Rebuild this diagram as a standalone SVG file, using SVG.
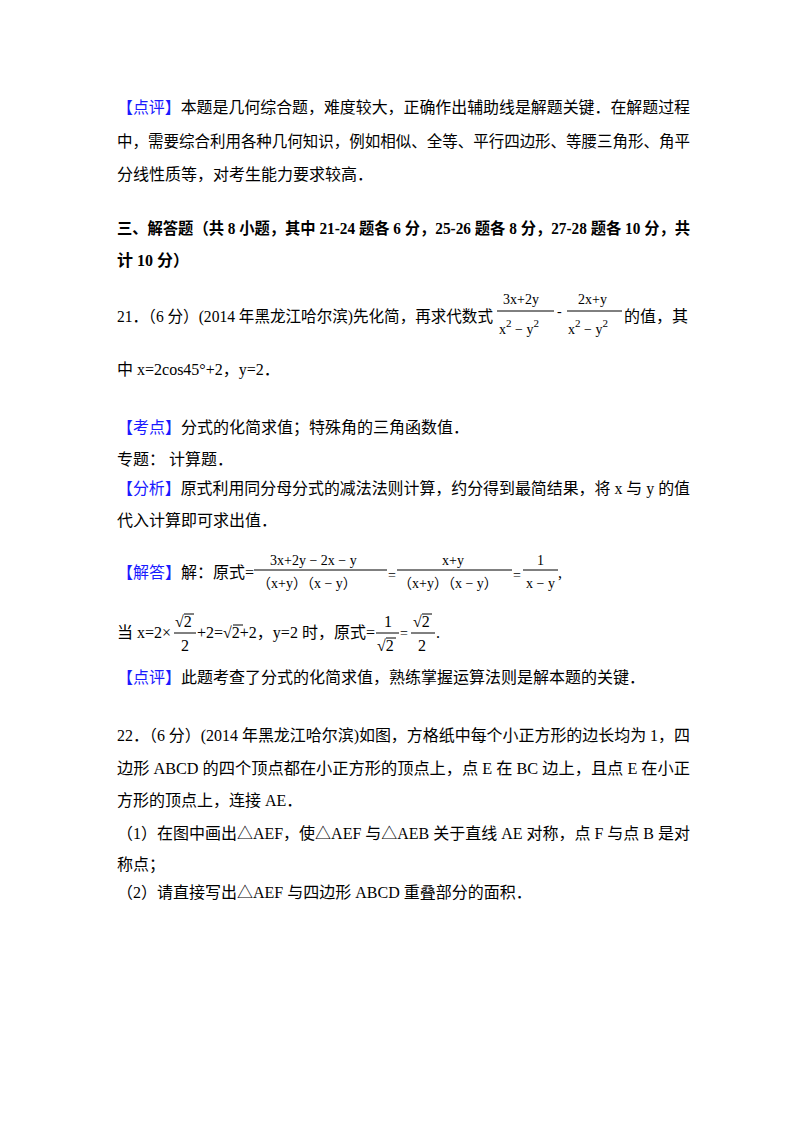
<svg xmlns="http://www.w3.org/2000/svg" width="800" height="1132" viewBox="0 0 800 1132">
<style>
text{font-family:"Liberation Serif","Noto Sans CJK SC",serif;font-size:16px;fill:#000}
.b{fill:#1a1aff}
.bold{font-weight:bold}
.m{font-size:14px}
.f{stroke:#000;stroke-width:1}
</style>
<rect width="800" height="1132" fill="#fff"/>
<g id="p1">
<text x="117" y="113" textLength="573" lengthAdjust="spacingAndGlyphs"><tspan class="b">【点评】</tspan>本题是几何综合题，难度较大，正确作出辅助线是解题关键．在解题过程</text>
<text x="117" y="147" textLength="573" lengthAdjust="spacingAndGlyphs">中，需要综合利用各种几何知识，例如相似、全等、平行四边形、等腰三角形、角平</text>
<text x="117" y="180">分线性质等，对考生能力要求较高．</text>
</g>
<g id="sec">
<text x="117" y="234" class="bold" textLength="573" lengthAdjust="spacingAndGlyphs">三、解答题（共 8 小题，其中 21-24 题各 6 分，25-26 题各 8 分，27-28 题各 10 分，共</text>
<text x="117" y="266" class="bold">计 10 分）</text>
</g>
<g id="q21">
<text x="117" y="322" textLength="376" lengthAdjust="spacingAndGlyphs">21．（6 分）(2014 年黑龙江哈尔滨)先化简，再求代数式</text>
<text x="503" y="304" class="m">3x+2y</text>
<line class="f" x1="497" y1="311" x2="554" y2="311"/>
<text x="499" y="334" class="m">x<tspan dy="-7" font-size="11">2</tspan><tspan dy="7"> − y</tspan><tspan dy="-7" font-size="11">2</tspan></text>
<text x="557" y="316" class="m">-</text>
<text x="578" y="304" class="m">2x+y</text>
<line class="f" x1="567" y1="311" x2="622" y2="311"/>
<text x="568" y="334" class="m">x<tspan dy="-7" font-size="11">2</tspan><tspan dy="7"> − y</tspan><tspan dy="-7" font-size="11">2</tspan></text>
<text x="624" y="322">的值，其</text>
<text x="117" y="375">中 x=2cos45°+2，y=2．</text>
</g>
<g id="ans21">
<text x="117" y="433"><tspan class="b">【考点】</tspan>分式的化简求值；特殊角的三角函数值．</text>
<text x="117" y="465">专题：  计算题．</text>
<text x="117" y="494" textLength="573" lengthAdjust="spacingAndGlyphs"><tspan class="b">【分析】</tspan>原式利用同分母分式的减法法则计算，约分得到最简结果，将 x 与 y 的值</text>
<text x="117" y="526">代入计算即可求出值．</text>
<text x="117" y="578"><tspan class="b">【解答】</tspan>解：原式=</text>
<text x="270" y="565" class="m">3x+2y − 2x − y</text>
<line class="f" x1="254" y1="570" x2="387" y2="570"/>
<text x="257" y="588" class="m">（x+y）（x − y）</text>
<text x="388" y="580" class="m">=</text>
<text x="442" y="565" class="m">x+y</text>
<line class="f" x1="397" y1="570" x2="512" y2="570"/>
<text x="398" y="588" class="m">（x+y）（x − y）</text>
<text x="513" y="580" class="m">=</text>
<text x="537" y="565" class="m">1</text>
<line class="f" x1="523" y1="570" x2="558" y2="570"/>
<text x="526" y="588" class="m">x − y</text>
<text x="558" y="578">,</text>
<text x="117" y="638">当 x=2×</text>
<text x="175" y="627">√2</text>
<line class="f" x1="184" y1="614" x2="194" y2="614"/>
<line class="f" x1="174" y1="633" x2="196" y2="633"/>
<text x="181" y="651">2</text>
<text x="197" y="638">+2=√2+2，y=2 时，原式=</text>
<line class="f" x1="233" y1="625" x2="243" y2="625"/>
<text x="384" y="627">1</text>
<line class="f" x1="376" y1="633" x2="399" y2="633"/>
<text x="377" y="651">√2</text>
<line class="f" x1="386" y1="638" x2="396" y2="638"/>
<text x="400" y="638" class="m">=</text>
<text x="413" y="627">√2</text>
<line class="f" x1="422" y1="614" x2="432" y2="614"/>
<line class="f" x1="411" y1="633" x2="435" y2="633"/>
<text x="418" y="651">2</text>
<text x="436" y="638">.</text>
<text x="117" y="683"><tspan class="b">【点评】</tspan>此题考查了分式的化简求值，熟练掌握运算法则是解本题的关键．</text>
</g>
<g id="q22">
<text x="117" y="741" textLength="573" lengthAdjust="spacingAndGlyphs">22．（6 分）(2014 年黑龙江哈尔滨)如图，方格纸中每个小正方形的边长均为 1，四</text>
<text x="117" y="774" textLength="573" lengthAdjust="spacingAndGlyphs">边形 ABCD 的四个顶点都在小正方形的顶点上，点 E 在 BC 边上，且点 E 在小正</text>
<text x="117" y="806">方形的顶点上，连接 AE．</text>
<text x="117" y="839" textLength="573" lengthAdjust="spacingAndGlyphs">（1）在图中画出△AEF，使△AEF 与△AEB 关于直线 AE 对称，点 F 与点 B 是对</text>
<text x="117" y="870">称点；</text>
<text x="117" y="898">（2）请直接写出△AEF 与四边形 ABCD 重叠部分的面积．</text>
</g>
</svg>
